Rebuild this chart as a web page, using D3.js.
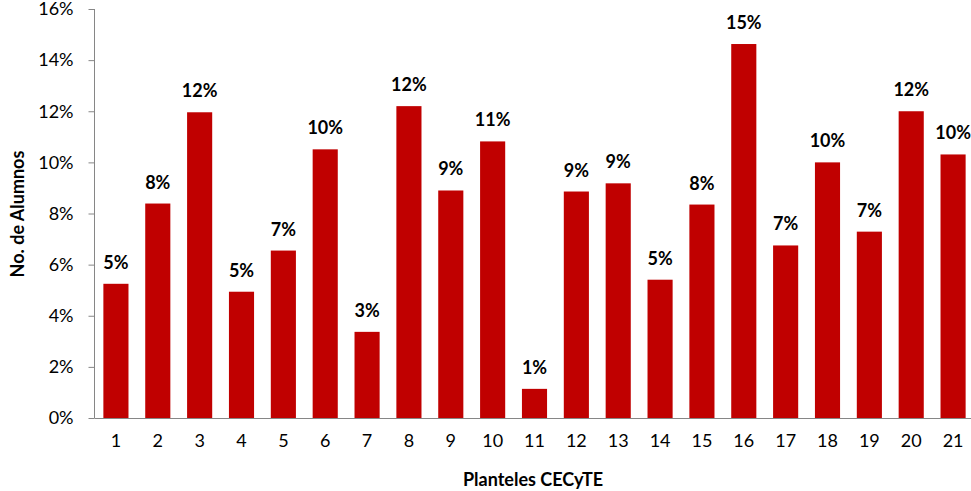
<!DOCTYPE html>
<html><head><meta charset="utf-8">
<script src="https://cdn.jsdelivr.net/npm/d3@7/dist/d3.min.js"></script>
<style>body{margin:0;background:#fff}svg{display:block}text{font-family:Lato,"Open Sans",sans-serif}</style>
</head><body>
<svg id="c" width="971" height="491"></svg>
<script>
const categories = ["1","2","3","4","5","6","7","8","9","10","11","12","13","14","15","16","17","18","19","20","21"];
const values = [5.25,8.39,11.96,4.94,6.55,10.51,3.37,12.2,8.9,10.82,1.14,8.86,9.18,5.41,8.35,14.63,6.75,10.0,7.29,12.0,10.31];
const labels = ["5%","8%","12%","5%","7%","10%","3%","12%","9%","11%","1%","9%","9%","5%","8%","15%","7%","10%","7%","12%","10%"];
const yTicks = [0,2,4,6,8,10,12,14,16];

const svg = d3.select("#c");
const x = d3.scaleBand().domain(categories).range([95, 974]).paddingInner(0.4).paddingOuter(0.2);
const y = d3.scaleLinear().domain([0,16]).range([418, 9]);
const FF = "Lato,'Open Sans',sans-serif";

svg.append("g").selectAll("rect").data(values).join("rect")
  .attr("x",(d,i)=>x(categories[i])).attr("width",x.bandwidth())
  .attr("y",d=>y(d)).attr("height",d=>y(0)-y(d)).attr("fill","#C00000");

svg.append("g").selectAll("text").data(values).join("text")
  .attr("x",(d,i)=>x(categories[i])+x.bandwidth()/2).attr("y",d=>y(d)-15)
  .attr("text-anchor","middle").attr("font-weight","bold").attr("font-size",18).attr("fill","#000")
  .text((d,i)=>labels[i]);

const ya = svg.append("g").attr("transform","translate(94.5,0)")
  .call(d3.axisLeft(y).tickValues(yTicks).tickFormat(d=>d+"%").tickSize(6).tickPadding(15));
ya.select(".domain").attr("stroke","#868686").attr("d","M0,"+y(16)+"V"+y(0));
ya.selectAll(".tick line").attr("stroke","#868686");
ya.selectAll(".tick text").attr("font-size",18).attr("fill","#000").style("font-family",FF);

const xa = svg.append("g").attr("transform","translate(0,418.5)")
  .call(d3.axisBottom(x).tickSize(0).tickPadding(16));
xa.select(".domain").attr("stroke","#868686").attr("d","M94.5,0H971");
xa.selectAll(".tick text").attr("font-size",18).attr("fill","#000").style("font-family",FF);

svg.append("text").attr("x",533).attr("y",486).attr("text-anchor","middle")
  .attr("font-weight","bold").attr("font-size",18).text("Planteles CECyTE");
svg.append("text").attr("transform","translate(24,214) rotate(-90)").attr("text-anchor","middle")
  .attr("font-weight","bold").attr("font-size",18).text("No. de Alumnos");
</script>
</body></html>
